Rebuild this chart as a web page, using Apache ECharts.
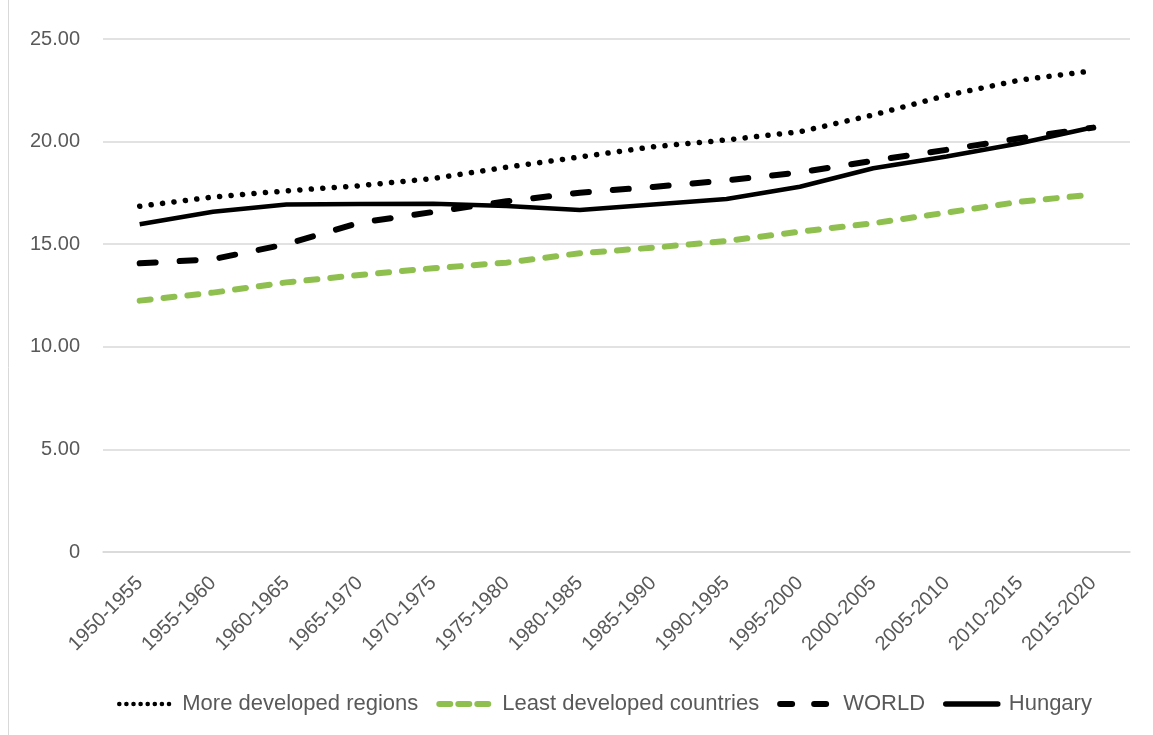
<!DOCTYPE html>
<html>
<head>
<meta charset="utf-8">
<script src="https://cdn.jsdelivr.net/npm/echarts@6/dist/echarts.min.js"></script>
<style>
html,body{margin:0;padding:0;background:#fff;}
#c{width:1153px;height:735px;}
</style>
</head>
<body>
<div id="c"></div>
<script>
const categories = ['1950-1955','1955-1960','1960-1965','1965-1970','1970-1975','1975-1980','1980-1985','1985-1990','1990-1995','1995-2000','2000-2005','2005-2010','2010-2015','2015-2020'];
const moreDeveloped = [16.85, 17.3, 17.6, 17.85, 18.2, 18.75, 19.25, 19.75, 20.08, 20.48, 21.3, 22.25, 23.0, 23.45];
const leastDeveloped = [12.25, 12.64, 13.14, 13.5, 13.83, 14.1, 14.56, 14.83, 15.16, 15.61, 16.02, 16.54, 17.07, 17.42];
const world = [14.07, 14.27, 15.0, 16.05, 16.57, 17.09, 17.51, 17.79, 18.11, 18.5, 19.07, 19.6, 20.16, 20.68];
const hungary = [15.97, 16.58, 16.94, 16.96, 16.97, 16.86, 16.67, 16.94, 17.2, 17.8, 18.7, 19.27, 19.92, 20.7];
const yTicks = [0, 5, 10, 15, 20, 25];

const chart = echarts.init(document.getElementById('c'));
const font = 'Liberation Sans, Arial, sans-serif';
const GREEN = '#8fc04f';
chart.setOption({
  animation: false,
  textStyle: {fontFamily: font},
  graphic: [{type:'line', shape:{x1:8.5, y1:0, x2:8.5, y2:735}, style:{stroke:'#d9d9d9', lineWidth:1}, silent:true}],
  grid: {left: 103, right: 23, top: 39, bottom: 183},
  xAxis: {
    type: 'category',
    data: categories,
    boundaryGap: true,
    axisLine: {show: true, lineStyle: {color: '#d9d9d9', width: 1.5}},
    axisTick: {show: false},
    axisLabel: {rotate: 45, color: '#595959', fontSize: 20, margin: 28, fontFamily: font}
  },
  yAxis: {
    type: 'value',
    min: yTicks[0], max: yTicks[yTicks.length-1], interval: 5,
    axisLine: {show: false},
    axisTick: {show: false},
    splitLine: {lineStyle: {color: '#d9d9d9', width: 1.5}},
    axisLabel: {color: '#595959', fontSize: 20, margin: 23, fontFamily: font,
      formatter: v => v === 0 ? '0' : v.toFixed(2)}
  },
  legend: {
    bottom: 15, left: 112,
    itemWidth: 52, itemHeight: 10, itemGap: 18,
    itemStyle: {color: 'rgba(0,0,0,0)', borderColor: 'rgba(0,0,0,0)', borderWidth: 0},
    textStyle: {color: '#595959', fontSize: 22, fontFamily: font, padding: [0, 0, 0, 6]},
    data: [
      {name: 'More developed regions', lineStyle: {color: '#000', width: 4.5, type: [0.1, 7], cap: 'round'}},
      {name: 'Least developed countries', lineStyle: {color: GREEN, width: 6, type: [11, 8], cap: 'round'}},
      {name: 'WORLD', lineStyle: {color: '#000', width: 6, type: [12, 22], cap: 'round'}},
      {name: 'Hungary', lineStyle: {color: '#000', width: 5.5, type: 'solid', cap: 'round'}}
    ]
  },
  series: [
    {name: 'More developed regions', type: 'line', data: moreDeveloped, symbol: 'none', showSymbol: false,
      lineStyle: {color: '#000', width: 5.5, type: [0.1, 11.4], cap: 'round'}, itemStyle: {color: '#000'}},
    {name: 'Least developed countries', type: 'line', data: leastDeveloped, symbol: 'none', showSymbol: false,
      lineStyle: {color: GREEN, width: 6, type: [11, 13], cap: 'round'}, itemStyle: {color: GREEN}},
    {name: 'WORLD', type: 'line', data: world, symbol: 'none', showSymbol: false,
      lineStyle: {color: '#000', width: 6, type: [16, 24], cap: 'round'}, itemStyle: {color: '#000'}},
    {name: 'Hungary', type: 'line', data: hungary, symbol: 'none', showSymbol: false,
      lineStyle: {color: '#000', width: 4.5}, itemStyle: {color: '#000'}}
  ]
});
</script>
</body>
</html>
